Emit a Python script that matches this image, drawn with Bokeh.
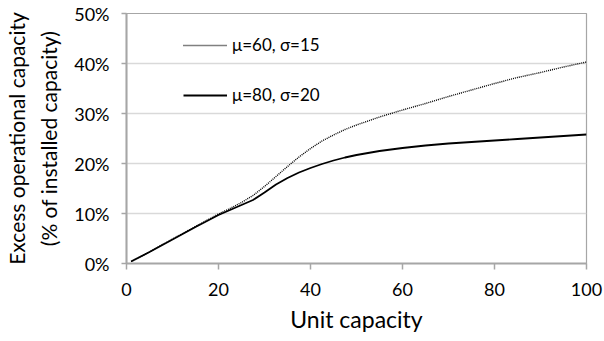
from bokeh.plotting import figure
from bokeh.models import LinearAxis, FixedTicker, PrintfTickFormatter, Legend, LegendItem, Range1d
from bokeh.embed import file_html
from bokeh.resources import INLINE

unit_capacity = [1, 5, 10, 15, 20, 22.5, 25, 27.5, 30, 32.5, 35, 37.5, 40, 42.5, 45, 47.5,
                 50, 55, 60, 65, 70, 75, 80, 85, 90, 95, 100]
mu60_sigma15 = [0.4, 2.3, 4.9, 7.4, 9.9, 11.0, 12.2, 13.6, 15.4, 17.4, 19.4, 21.3, 23.0, 24.5,
                25.7, 26.8, 27.7, 29.3, 30.7, 32.0, 33.4, 34.7, 36.0, 37.2, 38.2, 39.3, 40.3]
mu80_sigma20 = [0.4, 2.3, 4.8, 7.3, 9.7, 10.7, 11.7, 12.7, 14.2, 15.8, 17.1, 18.2, 19.1, 19.9,
                20.6, 21.2, 21.7, 22.5, 23.1, 23.6, 24.0, 24.3, 24.6, 24.9, 25.2, 25.5, 25.8]
x_ticks = [0, 20, 40, 60, 80, 100]
y_ticks = [0, 10, 20, 30, 40, 50]
series_labels = ["μ=60, σ=15", "μ=80, σ=20"]

FONT = "Lato"
AX = "#a6a6a6"

p = figure(width=604, height=341, output_backend="svg", toolbar_location=None,
           x_range=Range1d(0, 100), y_range=Range1d(0, 50),
           min_border_left=123, min_border_right=18, min_border_top=13, min_border_bottom=78,
           x_axis_location=None, y_axis_location=None)
p.outline_line_color = AX
p.outline_line_width = 1.2
p.background_fill_color = "white"
p.border_fill_color = "white"

xa = LinearAxis(ticker=FixedTicker(ticks=x_ticks))
xa.axis_label = "Unit capacity"
xa.axis_label_text_font = FONT
xa.axis_label_text_font_size = "23px"
xa.axis_label_text_font_style = "normal"
xa.axis_label_text_color = "black"
xa.axis_label_standoff = 6
xa.major_label_text_font = FONT
xa.major_label_text_font_size = "18px"
xa.major_label_text_color = "black"
xa.major_label_standoff = 13
xa.major_tick_out = 6
xa.major_tick_in = 0
xa.minor_tick_out = 0
xa.minor_tick_in = 0
xa.axis_line_color = AX
xa.axis_line_width = 2
xa.major_tick_line_color = AX
xa.major_tick_line_width = 1.5
p.add_layout(xa, "below")

ya = LinearAxis(ticker=FixedTicker(ticks=y_ticks), formatter=PrintfTickFormatter(format="%d%%"))
ya.axis_label = "(% of installed capacity)"
ya.axis_label_text_font = FONT
ya.axis_label_text_font_size = "21px"
ya.axis_label_text_font_style = "normal"
ya.axis_label_text_color = "black"
ya.axis_label_standoff = 10
ya.major_label_text_font = FONT
ya.major_label_text_font_size = "18px"
ya.major_label_text_color = "black"
ya.major_label_standoff = 12
ya.major_tick_out = 5
ya.major_tick_in = 0
ya.minor_tick_out = 0
ya.minor_tick_in = 0
ya.axis_line_color = AX
ya.axis_line_width = 2
ya.major_tick_line_color = AX
ya.major_tick_line_width = 1.5
p.add_layout(ya, "left")

ya2 = LinearAxis(ticker=FixedTicker(ticks=[]))
ya2.axis_label = "Excess operational capacity"
ya2.axis_label_text_font = FONT
ya2.axis_label_text_font_size = "21px"
ya2.axis_label_text_font_style = "normal"
ya2.axis_label_text_color = "black"
ya2.axis_label_standoff = 5
ya2.axis_line_color = None
ya2.major_tick_line_color = None
ya2.minor_tick_line_color = None
ya2.major_label_text_font_size = "0px"
p.add_layout(ya2, "left")

p.xgrid.visible = False
p.ygrid.ticker = FixedTicker(ticks=y_ticks)
p.ygrid.grid_line_color = "#d9d9d9"
p.ygrid.grid_line_width = 1.5

r1 = p.line(unit_capacity, mu60_sigma15, line_color="black", line_width=1.4, line_dash="1 1")
r2 = p.line(unit_capacity, mu80_sigma20, line_color="black", line_width=1.8)

legend = Legend(items=[LegendItem(label=series_labels[0], renderers=[r1]),
                       LegendItem(label=series_labels[1], renderers=[r2])],
                location=(57, 158), orientation="vertical")
legend.border_line_color = None
legend.background_fill_alpha = 0
legend.label_text_font = FONT
legend.label_text_font_size = "17px"
legend.label_text_color = "black"
legend.glyph_width = 44
legend.glyph_height = 20
legend.label_standoff = 5
legend.spacing = 29
legend.padding = 0
legend.margin = 0
p.add_layout(legend, "center")

open("out.html", "w").write(file_html(p, INLINE))
